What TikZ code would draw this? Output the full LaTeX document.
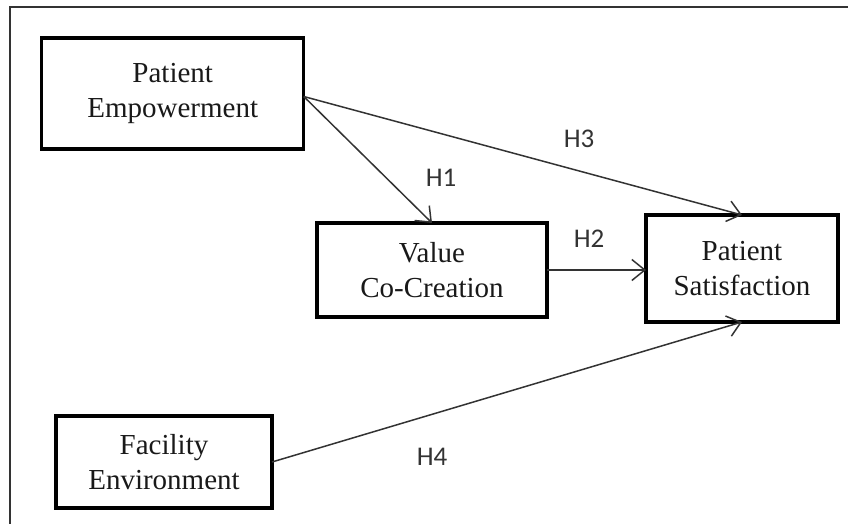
\documentclass[tikz,border=0pt]{standalone}
\usepackage{fontspec}
\setmainfont{Liberation Serif}
\newfontfamily\labfont{Carlito}
\usetikzlibrary{arrows.meta}
\begin{document}
\begin{tikzpicture}[x=1pt,y=-1pt,
  var/.style={draw=black,line width=3.2pt,align=center,inner sep=0pt,outer sep=0pt,
    font=\fontsize{29}{35}\selectfont,text=black!90},
  conn/.style={draw=black!80,line width=1.5pt,-{Straight Barb[length=13pt,width=21pt,line width=1.5pt]}},
  hlab/.style={font=\labfont\fontsize{27}{30}\selectfont,text=black!80,inner sep=0pt}]
\useasboundingbox (0,0) rectangle (848,524);
\draw[black!80,line width=1.5pt] (10,540) -- (10,7) -- (860,7);
\node[var,minimum width=262pt,minimum height=111pt] (pe) at (172.75,93.5) {Patient\\Empowerment};
\node[var,minimum width=230pt,minimum height=94pt] (vc) at (432,270) {Value\\Co-Creation};
\node[var,minimum width=192pt,minimum height=107pt] (ps) at (742,268.5) {Patient\\Satisfaction};
\node[var,minimum width=216pt,minimum height=92pt] (fe) at (164,462) {Facility\\Environment};
\draw[conn] ([yshift=-3pt]pe.east) -- (vc.north);
\draw[conn] ([yshift=-3pt]pe.east) -- (ps.north);
\draw[conn] (vc.east) -- (vc.east -| ps.west);
\draw[conn] (fe.east) -- (ps.south);
\node[hlab] (h1) at (441,177.5) {H1};
\node[hlab] (h3) at (579,138.5) {H3};
\node[hlab] (h2) at (589,238.5) {H2};
\node[hlab] (h4) at (432,457) {H4};
\end{tikzpicture}
\end{document}
